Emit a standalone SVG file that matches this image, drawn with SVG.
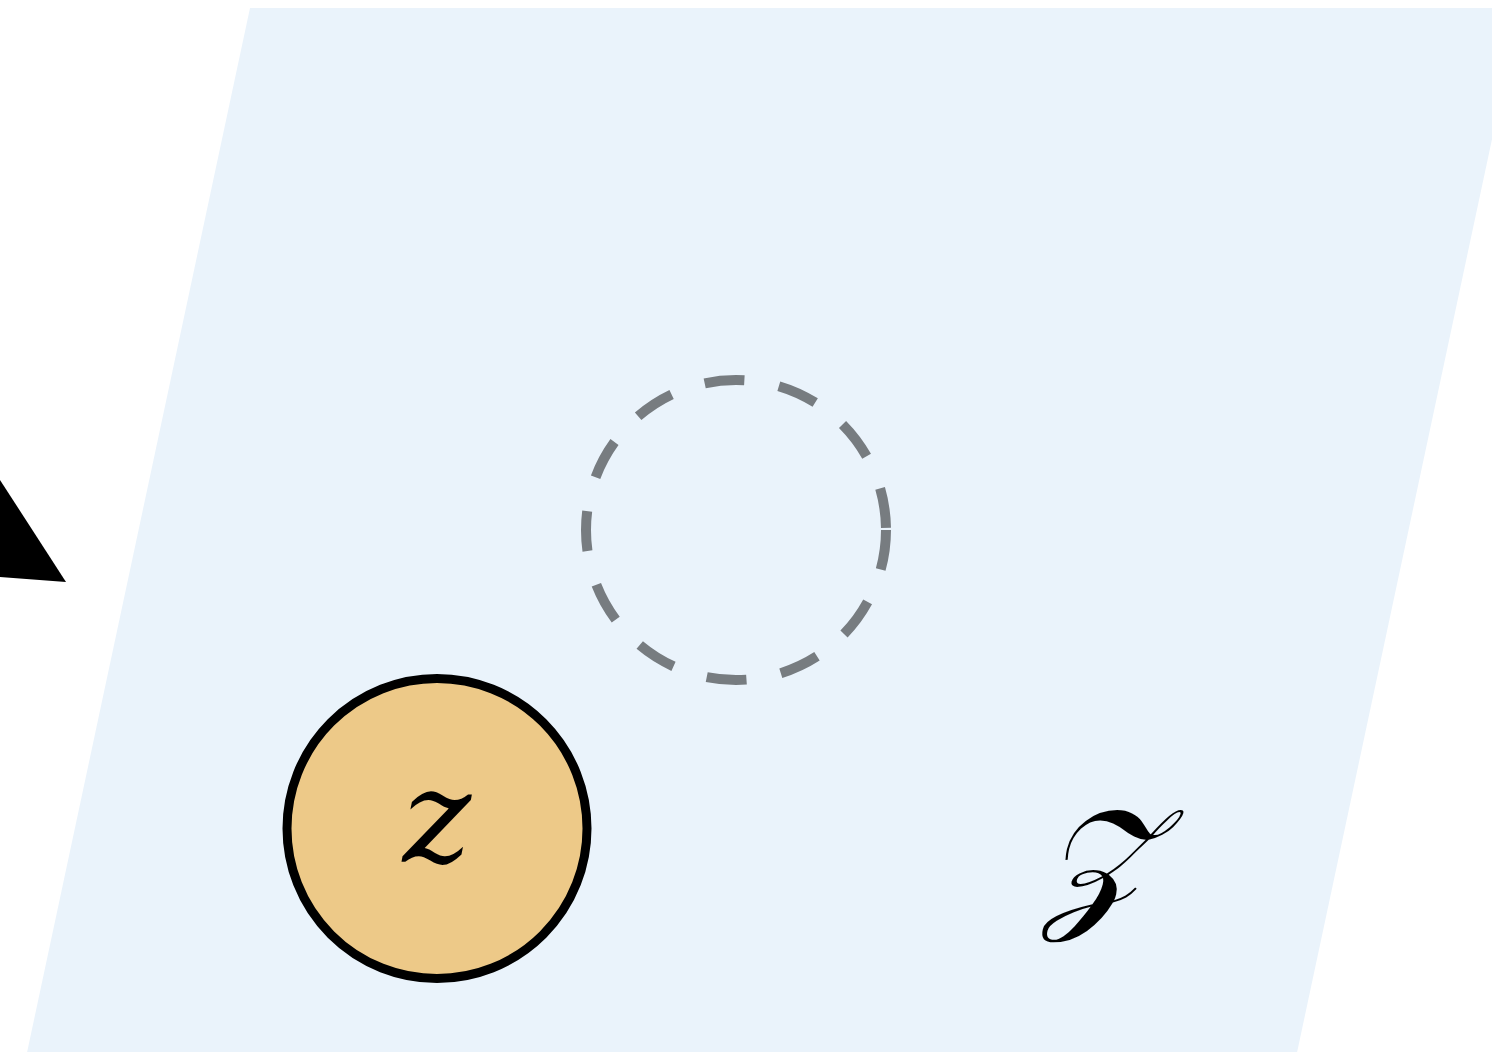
<svg xmlns="http://www.w3.org/2000/svg" width="1492" height="1052" viewBox="0 0 1492 1052">
<style>
.plane{fill:#EAF3FB;stroke:none}
.latent{fill:#EDC988;stroke:#000;stroke-width:9}
.ghost{fill:none;stroke:#777C80;stroke-width:10;stroke-dasharray:40 35}
.lbl{font-family:"DejaVu Serif","Liberation Serif",serif;font-style:italic;fill:#000;text-anchor:middle}
</style>
<rect width="1492" height="1052" fill="#fff"/>
<g id="plane">
<polygon class="plane" points="250,8 1520,8 1295,1062 25,1062"/>
<text class="lbl" x="1097" y="911" font-size="145">𝒵</text>
</g>
<g id="connectors">
<polygon points="-20,449 66,582 -20,575.5" fill="#000"/>
</g>
<g id="ghost-node">
<circle class="ghost" cx="736" cy="530" r="150"/>
</g>
<g id="z-node">
<circle class="latent" cx="437" cy="828.5" r="150"/>
<text class="lbl" x="437" y="862" font-size="130">z</text>
</g>
</svg>
